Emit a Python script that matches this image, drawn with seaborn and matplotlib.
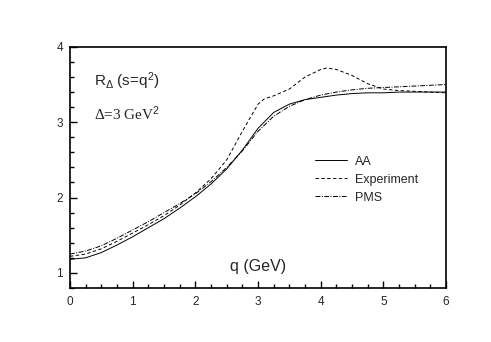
import numpy as np
import pandas as pd
import matplotlib
matplotlib.use("Agg")
import matplotlib.pyplot as plt
import seaborn as sns
from matplotlib.ticker import MultipleLocator

sns.set_theme(style="ticks")
plt.rcParams["font.family"] = ["Liberation Sans", "DejaVu Sans"]
plt.rcParams["mathtext.fontset"] = "custom"
plt.rcParams["mathtext.rm"] = "Liberation Sans"
plt.rcParams["mathtext.it"] = "Liberation Sans"

# values
q_aa = [0, 0.25, 0.5, 0.75, 1.0, 1.25, 1.5, 1.75, 2.0, 2.25, 2.5, 2.75, 3.0,
        3.25, 3.5, 3.75, 4.0, 4.25, 4.5, 4.75, 5.0, 5.25, 5.5, 5.75, 6.0]
r_aa = [1.18, 1.20, 1.27, 1.37, 1.48, 1.60, 1.72, 1.86, 2.01, 2.18, 2.38, 2.63, 2.92,
        3.13, 3.24, 3.30, 3.33, 3.36, 3.38, 3.39, 3.39, 3.40, 3.40, 3.40, 3.40]

q_exp = [0, 0.25, 0.5, 0.75, 1.0, 1.25, 1.5, 1.75, 2.0, 2.25, 2.5, 2.75, 3.0, 3.1,
         3.25, 3.5, 3.75, 4.0, 4.1, 4.25, 4.5, 4.75, 5.0, 5.25, 5.5, 5.75, 6.0]
r_exp = [1.22, 1.25, 1.32, 1.42, 1.53, 1.64, 1.76, 1.90, 2.06, 2.25, 2.50, 2.88, 3.24, 3.31,
         3.35, 3.44, 3.60, 3.70, 3.72, 3.70, 3.62, 3.51, 3.44, 3.42, 3.41, 3.40, 3.39]

q_pms = q_aa
r_pms = [1.25, 1.29, 1.36, 1.46, 1.57, 1.68, 1.80, 1.92, 2.05, 2.21, 2.40, 2.62, 2.88,
         3.08, 3.21, 3.30, 3.36, 3.40, 3.43, 3.45, 3.46, 3.47, 3.48, 3.49, 3.50]

fig = plt.figure(figsize=(4.91, 3.42), dpi=100)
ax = fig.add_axes([0.1426, 0.158, 0.766, 0.705])

lw = 0.7
sns.lineplot(x=q_aa, y=r_aa, ax=ax, color="black", lw=lw, label="AA")
sns.lineplot(x=q_exp, y=r_exp, ax=ax, color="black", lw=lw, label="Experiment",
             linestyle=(0, (3.5, 2.5)))
sns.lineplot(x=q_pms, y=r_pms, ax=ax, color="black", lw=lw, label="PMS",
             linestyle=(0, (5, 1.5, 1, 1.5)))

ax.set_xlim(0, 6)
ax.set_ylim(0.8, 4)
ax.xaxis.set_major_locator(MultipleLocator(1))
ax.xaxis.set_minor_locator(MultipleLocator(0.25))
ax.yaxis.set_major_locator(MultipleLocator(1))
ax.yaxis.set_minor_locator(MultipleLocator(0.2))
ax.tick_params(which="both", direction="in", top=False, right=False,
               labelsize=8.5, color="black", width=1)
ax.tick_params(axis="x", pad=6)
ax.tick_params(axis="y", pad=5)
ax.tick_params(which="major", length=5)
ax.tick_params(which="minor", length=3)
for s in ax.spines.values():
    s.set_linewidth(1.2)
    s.set_color("black")

ax.text(0.38, 3.48, r"R$_{\Delta}$ (s=q$^{2}$)", fontsize=11, va="baseline", ha="left")
ax.text(0.38, 3.03, r"Δ=3 GeV$^{2}$", fontsize=11, va="baseline", ha="left",
        family=["Liberation Serif", "DejaVu Serif"])
ax.text(3.0, 1.08, "q (GeV)", fontsize=11.5, va="center", ha="center")

ax.legend(loc="upper left", bbox_to_anchor=(0.621, 0.595), frameon=False,
          fontsize=9, handlelength=2.6, handletextpad=0.65, labelspacing=0.48)

fig.savefig("out.png", dpi=100)
